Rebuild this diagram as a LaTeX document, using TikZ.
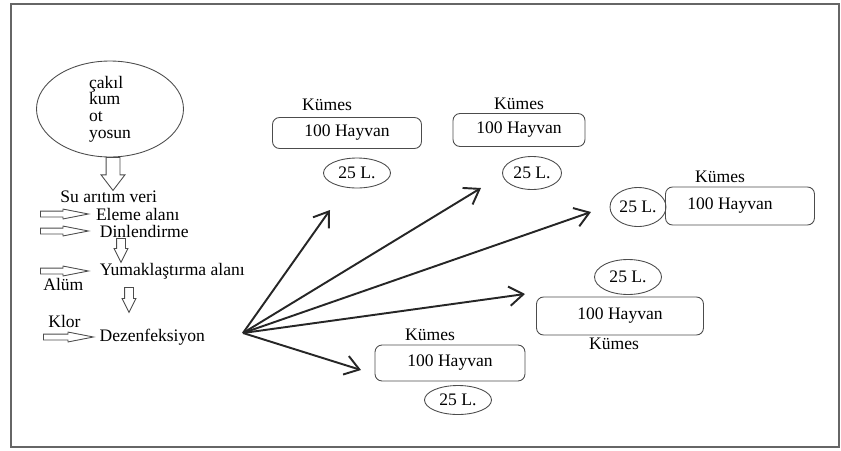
\documentclass[tikz,border=0pt]{standalone}
\usepackage{fontspec}
\setmainfont{Liberation Serif}
\usetikzlibrary{shapes.geometric, shapes.arrows, arrows.meta, positioning}

\begin{document}
\begin{tikzpicture}[x=0.02cm, y=-0.02cm, font=\fontsize{10}{11}\selectfont,
          pen/.style={draw=black!70, line width=0.5pt},
          txt/.style={inner sep=0pt, anchor=west},
          hayvanbox/.style={pen, rectangle, rounded corners=4pt, minimum width=2.98cm, minimum height=0.62cm},
          litre/.style={pen, ellipse, inner sep=0pt, minimum width=1.34cm, minimum height=0.6cm},
          rarrow/.style={pen, single arrow, anchor=tail, inner xsep=0pt, inner ysep=0.05cm, minimum height=0.96cm, single arrow head extend=0.04cm, single arrow tip angle=22},
          darrow/.style={pen, single arrow, anchor=tail, inner xsep=0pt, inner ysep=0.08cm, rotate=-90, minimum height=0.48cm, single arrow head extend=0.05cm, single arrow tip angle=53},
          feed/.style={-{Straight Barb[length=8pt,width=11pt]}, line width=1.1pt, draw=black!85}]
        \useasboundingbox (0,0) rectangle (841,450);
        \draw [black!60, line width=0.8pt] (11,4) rectangle (839,447);

        % aritim hatti
        \node [pen, ellipse, inner sep=0pt, minimum width=2.94cm, minimum height=1.92cm, align=left, font=\fontsize{10}{9.5}\selectfont] (filtre) at (110,109) {çakıl\\kum\\ot\\yosun};
        \node [darrow, inner ysep=0.13cm, minimum height=0.66cm, single arrow head extend=0.1cm, single arrow tip angle=75] (d0) at (113,157) {};
        \node [txt] (veri) at (60,197) {Su arıtım veri};
        \node [rarrow] (r1) at (40,214) {};
        \node [txt, right=2.8pt of r1.tip] (eleme) {Eleme alanı};
        \node [rarrow] (r2) at (40,231) {};
        \node [txt, right=5pt of r2.tip] (dinlen) {Dinlendirme};
        \node [darrow] (d1) at (121,238) {};
        \node [rarrow] (r3) at (40,271) {};
        \node [txt, right=5pt of r3.tip] (yumak) {Yumaklaştırma alanı};
        \node [txt] (alum) at (43,284) {Alüm};
        \node [darrow, minimum height=0.5cm] (d2) at (129,287) {};
        \node [txt] (klor) at (48,321) {Klor};
        \node [rarrow, minimum height=1.0cm] (r4) at (43,337) {};
        \node [txt, right=2pt of r4.tip] (dezen) {Dezenfeksiyon};

        % kumesler
        \node [hayvanbox] (k1) at (347,133) {100 Hayvan};
        \node (k1t) at (327,105) {Kümes};
        \node [litre] (l1) at (357,173) {25 L.};

        \node [hayvanbox, minimum width=2.64cm, minimum height=0.66cm] (k2) at (519,130) {100 Hayvan};
        \node (k2t) at (519,104) {Kümes};
        \node [litre, minimum width=1.18cm, minimum height=0.66cm] (l2) at (532,173) {25 L.};

        \node [hayvanbox, minimum height=0.76cm] (k3) at (740,206) {\hspace*{-0.4cm}100 Hayvan};
        \node (k3t) at (720,177) {Kümes};
        \node [litre, minimum width=1.12cm, minimum height=0.78cm] (l3) at (638,207) {25 L.};

        \node [hayvanbox, minimum width=3.34cm, minimum height=0.76cm] (k4) at (620,316) {100 Hayvan};
        \node (k4t) at (614,344) {Kümes};
        \node [litre, minimum height=0.7cm] (l4) at (628,277) {25 L.};

        \node [hayvanbox, minimum width=3.0cm, minimum height=0.72cm] (k5) at (450,363) {100 Hayvan};
        \node (k5t) at (430,335) {Kümes};
        \node [litre, minimum height=0.58cm] (l5) at (458,400) {25 L.};

        % dagitim
        \coordinate (hub) at (243,333);
        \coordinate (e1) at (330,210);
        \coordinate (e2) at (481,188);
        \coordinate (e3) at (591,212);
        \coordinate (e4) at (525,294);
        \coordinate (e5) at (361,370);

        \draw [feed] (hub) -- (e1);
        \draw [feed] (hub) -- (e2);
        \draw [feed] (hub) -- (e3);
        \draw [feed] (hub) -- (e4);
        \draw [feed] (hub) -- (e5);
      \end{tikzpicture}
\end{document}
